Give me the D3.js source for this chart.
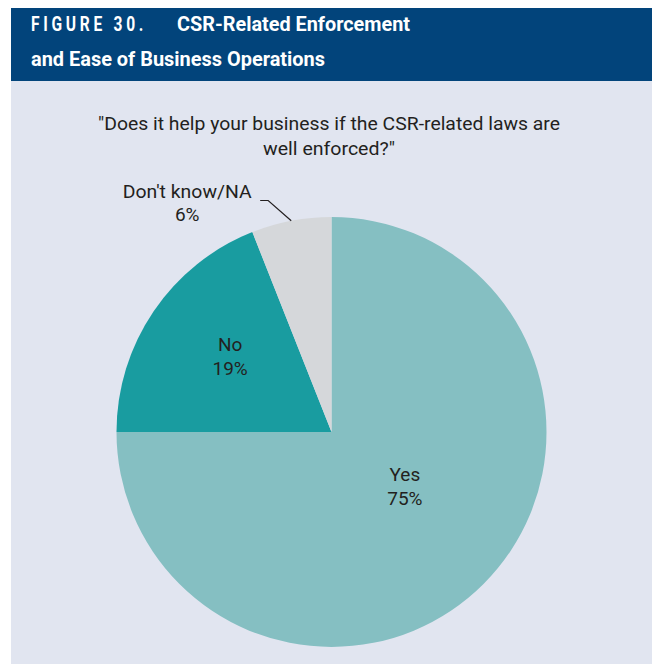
<!DOCTYPE html>
<html>
<head>
<meta charset="utf-8">
<script src="https://cdn.jsdelivr.net/npm/d3@7"></script>
<style>
  html, body { margin: 0; padding: 0; background: #ffffff; }
  svg { display: block; }
</style>
</head>
<body>
<svg id="chart" width="652" height="664"></svg>
<script>
// Survey answers, in drawing order (clockwise from 12 o'clock)
const categories = ["Yes", "No", "Don't know/NA"];
const shares = [75, 19, 6];
const sliceColors = ["#85bfc2", "#199ca0", "#d5d7da"];
const figureLabel = "FIGURE 30.";
const titleLines = ["CSR-Related Enforcement", "and Ease of Business Operations"];
const questionLines = ["\"Does it help your business if the CSR-related laws are", "well enforced?\""];

const svg = d3.select("#chart");
const W = 652, H = 664;
const font = "'Roboto', 'Liberation Sans', sans-serif";
const ink = "#231f20";

// panel background
svg.append("rect").attr("x", 11).attr("y", 80).attr("width", W - 11).attr("height", H - 80)
  .attr("fill", "#e1e5f0");

// header band
svg.append("rect").attr("x", 11).attr("y", 8).attr("width", W - 11).attr("height", 73)
  .attr("fill", "#02447b");

const title = svg.append("g").attr("fill", "#ffffff").attr("font-family", font)
  .attr("font-weight", "bold").attr("font-size", 21);
// figure number is set wide-spaced in a condensed face
title.append("text").attr("x", 31).attr("y", 31)
  .attr("letter-spacing", 5).text(figureLabel)
  .attr("textLength", 116).attr("lengthAdjust", "spacingAndGlyphs");
title.append("text").attr("x", 177).attr("y", 31).text(titleLines[0])
  .attr("textLength", 233).attr("lengthAdjust", "spacingAndGlyphs");
title.append("text").attr("x", 31).attr("y", 66).text(titleLines[1])
  .attr("textLength", 294).attr("lengthAdjust", "spacingAndGlyphs");

// question text
const q = svg.append("g").attr("fill", ink).attr("font-family", font)
  .attr("font-size", 19).attr("text-anchor", "middle");
q.append("text").attr("x", 329).attr("y", 130).text(questionLines[0])
  .attr("textLength", 462).attr("lengthAdjust", "spacingAndGlyphs");
q.append("text").attr("x", 329).attr("y", 155).text(questionLines[1])
  .attr("textLength", 132).attr("lengthAdjust", "spacingAndGlyphs");

// pie
const cx = 331.5, cy = 432, r = 215;
const pie = d3.pie().sort(null).value(d => d.v);
const data = categories.map((c, i) => ({ c, v: shares[i], color: sliceColors[i] }));
const arcs = pie(data);
const arc = d3.arc().innerRadius(0).outerRadius(r);

const g = svg.append("g").attr("transform", `translate(${cx},${cy})`);
g.selectAll("path").data(arcs).join("path")
  .attr("d", arc).attr("fill", d => d.data.color);

const polar = (a, rad) => [Math.sin(a) * rad, -Math.cos(a) * rad];

// inside labels for the two large slices
const labelRadius = [0.45 * r, 0.57 * r];
const labelNudge = [[5, -7], [0, 0]];
arcs.slice(0, 2).forEach((d, i) => {
  const mid = (d.startAngle + d.endAngle) / 2;
  const p = polar(mid, labelRadius[i]);
  const x = p[0] + labelNudge[i][0], y = p[1] + labelNudge[i][1];
  const t = g.append("text").attr("text-anchor", "middle").attr("font-family", font)
    .attr("font-size", 19).attr("fill", ink);
  t.append("tspan").attr("x", x).attr("y", y - 12).text(d.data.c);
  t.append("tspan").attr("x", x).attr("y", y + 12).text(d.data.v + "%");
});

// outside label with leader for the small slice
const dk = arcs[2];
const dkMid = (dk.startAngle + dk.endAngle) / 2;
const p0 = polar(dkMid, r);
const p1 = polar(dk.startAngle + 0.11, r + 25);
const p2 = [p1[0] - 8, p1[1]];
g.append("polyline").attr("points", [p0, p1, p2].map(p => p.join(",")).join(" "))
  .attr("fill", "none").attr("stroke", ink).attr("stroke-width", 1.2);
const dkText = g.append("text").attr("text-anchor", "middle").attr("font-family", font)
  .attr("font-size", 19).attr("fill", ink);
dkText.append("tspan").attr("x", p2[0] - 73).attr("y", p2[1] - 3).text(dk.data.c)
  .attr("textLength", 129).attr("lengthAdjust", "spacingAndGlyphs");
dkText.append("tspan").attr("x", p2[0] - 73).attr("y", p2[1] + 20).text(dk.data.v + "%");
</script>
</body>
</html>
